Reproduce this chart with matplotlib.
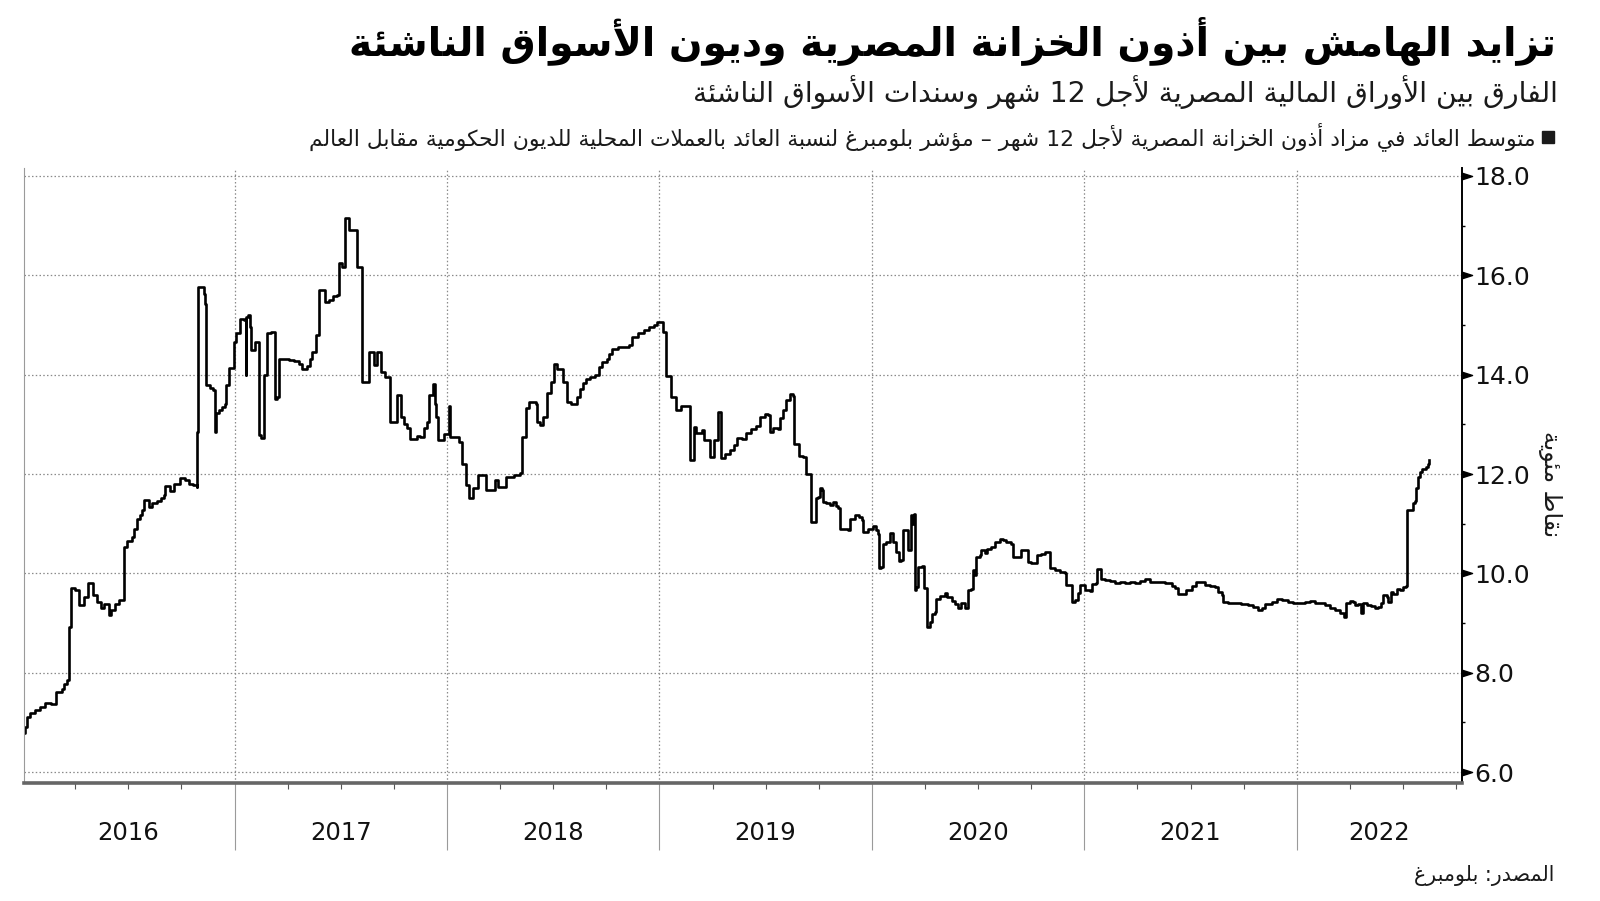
import re
import numpy as np
import matplotlib
matplotlib.use("Agg")
import matplotlib.pyplot as plt
from matplotlib.patches import Rectangle

plt.rcParams['font.family'] = ['DejaVu Sans']

# texts
title = "تزايد الهامش بين أذون الخزانة المصرية وديون الأسواق الناشئة"
subtitle = "الفارق بين الأوراق المالية المصرية لأجل 12 شهر وسندات الأسواق الناشئة"
legend_txt = ("متوسط العائد في مزاد أذون الخزانة المصرية لأجل 12 شهر – "
              "مؤشر بلومبرغ لنسبة العائد بالعملات المحلية للديون الحكومية مقابل العالم")
ylabel = "نقاط مئوية"
source = "المصدر: بلومبرغ"
year_labels = ["2016", "2017", "2018", "2019", "2020", "2021", "2022"]

# data: time as years after 1 Jan 2016, spread in percentage points
t_2016 = [0.005, 0.012, 0.024, 0.038, 0.061, 0.085, 0.108, 0.137, 0.160, 0.188, 0.198, 0.212, 0.220,
          0.232, 0.250, 0.266, 0.290, 0.309, 0.332, 0.353, 0.370, 0.386, 0.407, 0.419, 0.438, 0.457,
          0.482, 0.495, 0.518, 0.528, 0.542, 0.556, 0.565, 0.576, 0.596, 0.612, 0.636, 0.655, 0.666,
          0.675, 0.697, 0.716, 0.744, 0.768, 0.787, 0.805, 0.821, 0.824, 0.830, 0.857, 0.863, 0.867,
          0.886, 0.900, 0.906, 0.915, 0.928, 0.942, 0.956, 0.962, 0.974]
v_2016 = [6.78, 6.90, 7.11, 7.18, 7.25, 7.31, 7.39, 7.37, 7.62, 7.68, 7.78, 7.86, 8.92,
          9.70, 9.66, 9.36, 9.53, 9.80, 9.57, 9.42, 9.31, 9.38, 9.16, 9.26, 9.38, 9.46,
          10.53, 10.66, 10.73, 10.90, 11.10, 11.17, 11.27, 11.47, 11.33, 11.42, 11.45, 11.51, 11.58,
          11.75, 11.65, 11.80, 11.91, 11.87, 11.80, 11.78, 11.74, 12.85, 15.76, 15.63, 15.43, 13.79,
          13.74, 13.70, 12.85, 13.22, 13.28, 13.35, 13.41, 13.79, 14.14]

t_2017 = [0.999, 1.005, 1.025, 1.046, 1.052, 1.055, 1.065, 1.075, 1.079, 1.097, 1.115, 1.126, 1.138,
          1.154, 1.173, 1.190, 1.199, 1.209, 1.258, 1.281, 1.305, 1.319, 1.342, 1.357, 1.366, 1.382,
          1.398, 1.424, 1.446, 1.465, 1.484, 1.492, 1.507, 1.518, 1.539, 1.575, 1.601, 1.633, 1.657,
          1.672, 1.691, 1.710, 1.730, 1.763, 1.785, 1.799, 1.813, 1.826, 1.861, 1.875, 1.894, 1.904,
          1.916, 1.936, 1.943, 1.947, 1.958]
v_2017 = [14.66, 14.83, 15.13, 15.10, 13.99, 15.16, 15.21, 14.96, 14.49, 14.66, 12.78, 12.72, 13.99,
          14.83, 14.85, 13.52, 13.55, 14.32, 14.30, 14.27, 14.22, 14.12, 14.17, 14.32, 14.45, 14.79,
          15.70, 15.46, 15.50, 15.59, 15.61, 16.24, 16.17, 17.15, 16.91, 16.17, 13.85, 14.46, 14.19,
          14.46, 14.05, 13.95, 13.05, 13.60, 13.15, 13.00, 12.92, 12.71, 12.76, 12.74, 12.92, 13.05,
          13.59, 13.82, 13.40, 13.15, 12.68]

t_2018 = [1.988, 2.010, 2.016, 2.057, 2.069, 2.088, 2.105, 2.124, 2.146, 2.186, 2.225, 2.242, 2.276,
          2.317, 2.344, 2.355, 2.371, 2.387, 2.419, 2.426, 2.440, 2.454, 2.473, 2.488, 2.504, 2.520,
          2.544, 2.564, 2.586, 2.614, 2.624, 2.638, 2.653, 2.675, 2.699, 2.718, 2.732, 2.751, 2.765,
          2.779, 2.803, 2.858, 2.873, 2.897, 2.928, 2.953, 2.976, 2.991]
v_2018 = [12.80, 13.36, 12.74, 12.65, 12.21, 11.77, 11.51, 11.71, 11.98, 11.67, 11.88, 11.74, 11.94,
          11.99, 12.02, 12.75, 13.32, 13.45, 13.40, 13.05, 12.99, 13.15, 13.63, 13.85, 14.22, 14.12,
          13.85, 13.45, 13.41, 13.55, 13.72, 13.84, 13.92, 13.95, 13.99, 14.16, 14.26, 14.31, 14.42,
          14.52, 14.55, 14.59, 14.75, 14.83, 14.89, 14.95, 14.99, 15.06]

t_2019 = [3.015, 3.033, 3.056, 3.079, 3.103, 3.142, 3.162, 3.172, 3.201, 3.212, 3.236, 3.255, 3.275,
          3.291, 3.311, 3.330, 3.349, 3.363, 3.387, 3.409, 3.432, 3.456, 3.475, 3.495, 3.509, 3.519,
          3.537, 3.556, 3.566, 3.581, 3.594, 3.613, 3.628, 3.632, 3.647, 3.657, 3.674, 3.688, 3.701,
          3.712, 3.726, 3.735, 3.746, 3.757, 3.767, 3.770, 3.786, 3.801, 3.817, 3.830, 3.840, 3.852,
          3.887, 3.899, 3.919, 3.939, 3.952, 3.958, 3.980]
v_2019 = [14.85, 13.98, 13.55, 13.28, 13.36, 12.28, 12.95, 12.82, 12.88, 12.68, 12.34, 12.68, 13.25,
          12.33, 12.40, 12.49, 12.58, 12.72, 12.70, 12.83, 12.90, 12.96, 13.15, 13.20, 13.18, 12.85,
          12.92, 12.90, 13.12, 13.29, 13.48, 13.62, 13.58, 12.61, 12.60, 12.37, 12.34, 12.01, 12.01,
          11.04, 11.04, 11.51, 11.54, 11.71, 11.68, 11.44, 11.41, 11.37, 11.43, 11.36, 11.31, 10.90,
          10.87, 11.10, 11.18, 11.14, 11.07, 10.83, 10.90]

t_2020 = [4.005, 4.021, 4.029, 4.033, 4.045, 4.052, 4.068, 4.084, 4.099, 4.112, 4.123, 4.128, 4.139,
          4.147, 4.163, 4.170, 4.178, 4.183, 4.191, 4.197, 4.202, 4.210, 4.217, 4.238, 4.244, 4.257,
          4.261, 4.272, 4.285, 4.296, 4.304, 4.319, 4.343, 4.354, 4.367, 4.375, 4.390, 4.406, 4.421,
          4.437, 4.448, 4.453, 4.469, 4.476, 4.484, 4.492, 4.508, 4.516, 4.531, 4.542, 4.563, 4.578,
          4.602, 4.618, 4.633, 4.657, 4.665, 4.688, 4.704, 4.720, 4.735, 4.747, 4.767, 4.778, 4.798,
          4.814, 4.830, 4.838, 4.861, 4.885, 4.908, 4.916, 4.932, 4.940, 4.955, 4.971, 4.979]
v_2020 = [10.95, 10.87, 10.79, 10.10, 10.12, 10.60, 10.63, 10.81, 10.63, 10.43, 10.43, 10.25, 10.27,
          10.87, 10.87, 10.47, 10.47, 11.17, 11.00, 11.20, 9.66, 9.73, 10.13, 10.15, 9.70, 9.70,
          8.92, 9.03, 9.19, 9.22, 9.49, 9.55, 9.60, 9.52, 9.52, 9.45, 9.39, 9.31, 9.40,
          9.31, 9.31, 9.66, 9.69, 10.06, 9.96, 10.33, 10.36, 10.47, 10.40, 10.50, 10.54, 10.63,
          10.70, 10.68, 10.63, 10.60, 10.32, 10.33, 10.47, 10.47, 10.23, 10.20, 10.20, 10.37, 10.39,
          10.42, 10.42, 10.10, 10.06, 10.03, 10.01, 9.76, 9.76, 9.43, 9.46, 9.60, 9.76]

t_2021 = [4.994, 5.002, 5.026, 5.034, 5.054, 5.062, 5.073, 5.078, 5.097, 5.120, 5.144, 5.167, 5.191,
          5.214, 5.238, 5.261, 5.285, 5.309, 5.332, 5.356, 5.379, 5.411, 5.426, 5.439, 5.459, 5.481,
          5.505, 5.528, 5.549, 5.568, 5.591, 5.615, 5.630, 5.646, 5.654, 5.676, 5.700, 5.723, 5.740,
          5.770, 5.794, 5.819, 5.835, 5.850, 5.882, 5.905, 5.929, 5.959, 5.984, 6.006, 6.039, 6.062,
          6.086, 6.109, 6.133, 6.156, 6.180, 6.203, 6.219, 6.224, 6.230, 6.250, 6.266, 6.274, 6.290,
          6.302, 6.313, 6.329, 6.349, 6.368, 6.384, 6.397, 6.408, 6.424, 6.431, 6.444, 6.455, 6.471,
          6.486, 6.502, 6.513, 6.517, 6.541, 6.549, 6.559, 6.561, 6.569, 6.572, 6.580, 6.588, 6.609,
          6.619, 6.624]
v_2021 = [9.76, 9.66, 9.65, 9.78, 9.80, 10.08, 10.08, 9.88, 9.87, 9.84, 9.80, 9.82, 9.80,
          9.82, 9.80, 9.84, 9.88, 9.83, 9.82, 9.82, 9.80, 9.74, 9.70, 9.58, 9.59, 9.66,
          9.75, 9.82, 9.83, 9.77, 9.75, 9.73, 9.63, 9.56, 9.43, 9.41, 9.41, 9.40, 9.38,
          9.36, 9.32, 9.26, 9.30, 9.38, 9.42, 9.49, 9.46, 9.43, 9.41, 9.40, 9.43, 9.45,
          9.41, 9.40, 9.36, 9.30, 9.26, 9.21, 9.20, 9.13, 9.40, 9.45, 9.43, 9.36, 9.38,
          9.21, 9.41, 9.37, 9.34, 9.31, 9.33, 9.41, 9.56, 9.53, 9.43, 9.62, 9.59, 9.68,
          9.67, 9.73, 9.74, 11.27, 11.28, 11.42, 11.45, 11.71, 11.81, 11.94, 12.04, 12.11, 12.15,
          12.20, 12.28]

years = 2016 + np.array(t_2016 + t_2017 + t_2018 + t_2019 + t_2020 + t_2021)
spread = np.array(v_2016 + v_2017 + v_2018 + v_2019 + v_2020 + v_2021)

# --- simple arabic shaping (contextual forms + right-to-left order) ---
FORMS = {'ء': (0xFE80, 1), 'آ': (0xFE81, 2), 'أ': (0xFE83, 2), 'ؤ': (0xFE85, 2), 'إ': (0xFE87, 2),
         'ئ': (0xFE89, 4), 'ا': (0xFE8D, 2), 'ب': (0xFE8F, 4), 'ة': (0xFE93, 2), 'ت': (0xFE95, 4),
         'ث': (0xFE99, 4), 'ج': (0xFE9D, 4), 'ح': (0xFEA1, 4), 'خ': (0xFEA5, 4), 'د': (0xFEA9, 2),
         'ذ': (0xFEAB, 2), 'ر': (0xFEAD, 2), 'ز': (0xFEAF, 2), 'س': (0xFEB1, 4), 'ش': (0xFEB5, 4),
         'ص': (0xFEB9, 4), 'ض': (0xFEBD, 4), 'ط': (0xFEC1, 4), 'ظ': (0xFEC5, 4), 'ع': (0xFEC9, 4),
         'غ': (0xFECD, 4), 'ف': (0xFED1, 4), 'ق': (0xFED5, 4), 'ك': (0xFED9, 4), 'ل': (0xFEDD, 4),
         'م': (0xFEE1, 4), 'ن': (0xFEE5, 4), 'ه': (0xFEE9, 4), 'و': (0xFEED, 2), 'ى': (0xFEEF, 2),
         'ي': (0xFEF1, 4)}
LAM_ALEF = {'آ': 0xFEF5, 'أ': 0xFEF7, 'إ': 0xFEF9, 'ا': 0xFEFB}


def shape(text):
    out = []
    n = len(text)
    i = 0
    while i < n:
        c = text[i]
        nxt = text[i + 1] if i + 1 < n else None
        p = text[i - 1] if i > 0 else None
        prev_j = p in FORMS and FORMS[p][1] == 4
        if c == 'ل' and nxt in LAM_ALEF:
            out.append(chr(LAM_ALEF[nxt] + (1 if prev_j else 0)))
            i += 2
            continue
        if c in FORMS:
            base, cnt = FORMS[c]
            next_j = nxt in FORMS and FORMS[nxt][1] >= 2
            f = 0
            if cnt == 4:
                if prev_j and next_j:
                    f = 3
                elif prev_j:
                    f = 1
                elif next_j:
                    f = 2
            elif cnt == 2 and prev_j:
                f = 1
            out.append(chr(base + f))
        else:
            out.append(c)
        i += 1
    s = ''.join(out)[::-1]
    return re.sub(r'[0-9][0-9.,]*', lambda m: m.group(0)[::-1], s)


W, H = 1600, 901
fig = plt.figure(figsize=(W / 100, H / 100), dpi=100)
ax = fig.add_axes([24 / W, 1 - 783 / H, (1462 - 24) / W, (783 - 168) / H])

ax.plot(years, spread, color='black', lw=1.9, drawstyle='steps-post')

ax.set_xlim(2016.009, 2022.778)
ax.set_ylim(5.78, 18.16)

# y axis on the right
ax.yaxis.tick_right()
ax.set_yticks(np.arange(6, 19, 2))
ax.set_yticklabels([f"{v:.1f}" for v in np.arange(6, 19, 2)])
ax.set_yticks(np.arange(7, 18, 2), minor=True)
ax.tick_params(axis='y', which='major', length=0, pad=8.5, labelsize=18, labelcolor='#111111')
ax.tick_params(axis='y', which='minor', length=2.5, width=1, color='black')
arrow = [(0, -0.32), (1, 0), (0, 0.32), (0, -0.32)]
ax.plot(np.ones(7), np.arange(6, 19, 2), ls='none', marker=arrow, ms=14.5, color='black',
        transform=ax.get_yaxis_transform(), clip_on=False)

# x axis: year dividers and quarter ticks
ax.set_xticks(range(2017, 2023))
ax.set_xticklabels([])
ax.set_xticks([y + q / 4 for y in range(2016, 2023) for q in (1, 2, 3)], minor=True)
ax.tick_params(axis='x', which='major', length=48, width=0.8, color='#9a9a9a')
ax.tick_params(axis='x', which='minor', length=4, width=0.8, color='#555555')
centers = [y + 0.5 for y in range(2016, 2022)] + [(2022 + 2022.778) / 2]
for c, lab in zip(centers, year_labels):
    ax.text(c, -0.081, lab, transform=ax.get_xaxis_transform(), ha='center', va='center',
            fontsize=17.5, color='#111111')

ax.grid(True, which='major', color='#8a8a8a', ls=(0, (1.2, 1.8)), lw=0.9)

ax.spines['top'].set_visible(False)
ax.spines['left'].set_color('#9a9a9a')
ax.spines['left'].set_linewidth(0.8)
ax.spines['right'].set_color('black')
ax.spines['right'].set_linewidth(1.4)
ax.spines['bottom'].set_color('#666666')
ax.spines['bottom'].set_linewidth(2.6)

renderer = fig.canvas.get_renderer()


def fit_text(x, y, s, width, **kw):
    t = fig.text(x / W, 1 - y / H, s, **kw)
    w = t.get_window_extent(renderer=renderer).width
    t.set_fontsize(t.get_fontsize() * width / w)
    return t


fit_text(1556, 41, shape(title), 1206, ha='right', va='center', fontweight='bold', fontsize=30)
fit_text(1558, 92, shape(subtitle), 867, ha='right', va='center', fontsize=20, color='#1a1a1a')
fit_text(1536, 137, shape(legend_txt), 1243, ha='right', va='center', fontsize=14, color='#1a1a1a')
fit_text(1554, 875, shape(source), 141, ha='right', va='center', fontsize=14, color='#1a1a1a')
fig.add_artist(Rectangle((1542 / W, 1 - 143 / H), 12 / W, 12 / H, transform=fig.transFigure,
                         color='#1a1a1a'))

fig.text(1550 / W, 1 - 484 / H, shape(ylabel), rotation=270, ha='center', va='center',
         fontsize=17, color='#1a1a1a')

fig.savefig('out.png', dpi=100)
